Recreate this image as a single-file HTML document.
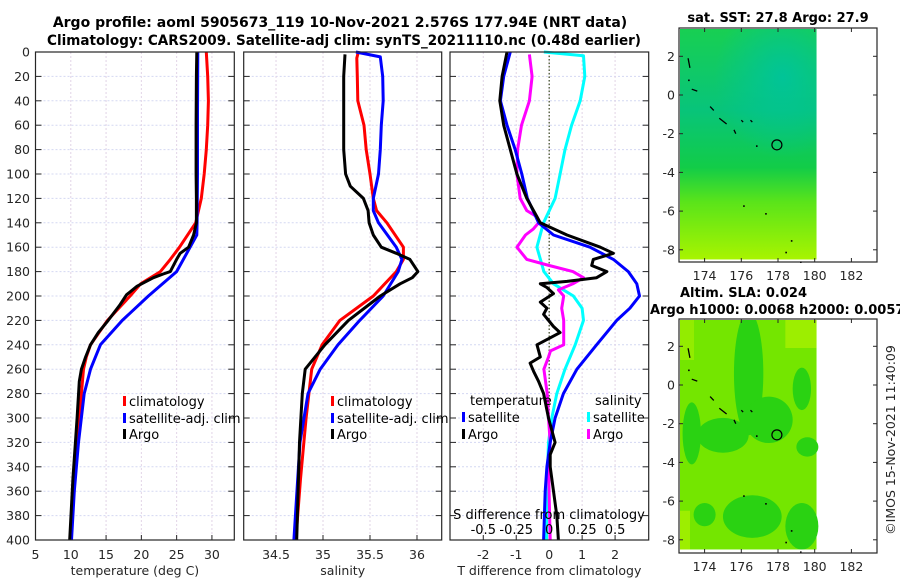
<!DOCTYPE html>
<html><head><meta charset="utf-8"><style>
html,body{margin:0;padding:0;background:#fff;}
svg{display:block;font-family:"DejaVu Sans","Liberation Sans",sans-serif;}
.tk{font-size:12.5px;fill:#262626;}
.ttl{font-size:14px;font-weight:bold;fill:#000;}
.mttl{font-size:13px;font-weight:bold;fill:#000;}
.lg{font-size:13px;fill:#000;}
</style></head><body>
<svg id="root" width="900" height="580" viewBox="0 0 900 580">
<defs>
<linearGradient id="sstg" x1="0" y1="0" x2="0" y2="1">
<stop offset="0" stop-color="#18cf52"/><stop offset="0.35" stop-color="#08c47a"/><stop offset="0.6" stop-color="#12cc48"/><stop offset="0.75" stop-color="#5ae41a"/><stop offset="1" stop-color="#a8f400"/></linearGradient>
<radialGradient id="teal" cx="0.75" cy="0.3" r="0.5"><stop offset="0" stop-color="#00c49a" stop-opacity="0.95"/><stop offset="1" stop-color="#00c49a" stop-opacity="0"/></radialGradient>
<clipPath id="clipsla"><rect x="680" y="320" width="140" height="231"/></clipPath>
</defs>
<text class="ttl" x="340" y="27" text-anchor="middle">Argo profile: aoml 5905673_119 10-Nov-2021 2.576S 177.94E (NRT data)</text>
<text class="ttl" x="344" y="45" text-anchor="middle" textLength="594" lengthAdjust="spacingAndGlyphs">Climatology: CARS2009. Satellite-adj clim: synTS_20211110.nc (0.48d earlier)</text>
<g id="g1"></g>
<g id="g2"></g>
<g id="g3"></g>
<g id="maps"></g>
</svg>
<script>
const depthTicks=[0,20,40,60,80,100,120,140,160,180,200,220,240,260,280,300,320,340,360,380,400];
const tTicks=[5,10,15,20,25,30];
const sTicks=[34.5,35,35.5,36];
const dTicks=[-2,-1,0,1,2];
const sdTicks=[-0.5,-0.25,0,0.25,0.5];
const sdTickLabels=["-0.5","-0.25","0","0.25","0.5"];
const tempClim=[[0,29.2],[20,29.4],[40,29.5],[60,29.4],[80,29.2],[100,28.9],[120,28.5],[140,27.7],[160,25.4],[170,24.1],[180,22.7],[190,19.9],[200,18.4],[220,15.2],[240,12.8],[250,12.2],[260,11.8],[300,11.2],[350,10.5],[400,9.95]];
const tempSat=[[0,28.0],[50,27.95],[100,27.95],[140,27.9],[150,27.85],[160,26.9],[180,25.0],[200,21.0],[220,17.3],[240,14.2],[260,12.8],[280,11.9],[320,11.1],[360,10.5],[400,10.1]];
const tempArgo=[[0,27.85],[20,27.8],[60,27.75],[100,27.75],[120,27.8],[140,27.8],[150,27.4],[160,26.7],[165,25.5],[170,25.0],[180,24.1],[182,23.1],[185,21.7],[192,19.4],[199,17.9],[207,17.0],[220,15.3],[230,13.9],[240,12.8],[250,12.1],[260,11.5],[270,11.2],[300,10.9],[350,10.3],[400,9.85]];
const salClim=[[0,35.376],[5,35.36],[20,35.365],[40,35.37],[60,35.436],[80,35.46],[100,35.5],[120,35.535],[130,35.57],[140,35.68],[160,35.855],[170,35.855],[180,35.78],[200,35.535],[220,35.18],[240,34.99],[260,34.88],[300,34.82],[350,34.76],[400,34.71]];
const salSat=[[0,35.35],[4,35.61],[20,35.635],[40,35.64],[60,35.62],[80,35.61],[100,35.59],[120,35.535],[130,35.535],[140,35.59],[160,35.78],[170,35.84],[180,35.8],[200,35.64],[220,35.39],[240,35.16],[260,34.97],[280,34.84],[320,34.755],[400,34.69]];
const salArgo=[[2,35.234],[20,35.22],[80,35.22],[100,35.24],[110,35.29],[120,35.43],[130,35.48],[140,35.49],[150,35.535],[160,35.62],[165,35.78],[170,35.925],[180,36.01],[185,35.95],[190,35.82],[200,35.61],[220,35.27],[240,35.02],[260,34.81],[280,34.78],[320,34.75],[400,34.72]];
const dTempSat=[[0,-1.18],[20,-1.38],[40,-1.48],[60,-1.28],[80,-1.03],[100,-0.83],[120,-0.66],[140,-0.32],[150,0.13],[160,1.24],[170,1.95],[180,2.4],[190,2.66],[200,2.74],[210,2.45],[220,2.05],[240,1.44],[260,0.84],[280,0.43],[300,0.18],[320,0.03],[340,-0.07],[360,-0.12],[400,-0.17]];
const dTempArgo=[[0,-1.28],[20,-1.43],[40,-1.5],[60,-1.38],[80,-1.18],[100,-0.98],[120,-0.68],[140,-0.27],[150,0.54],[160,1.55],[165,1.95],[170,1.34],[175,1.29],[180,1.75],[185,1.44],[188,0.54],[190,-0.27],[193,-0.07],[198,0.13],[205,-0.27],[210,-0.07],[215,-0.17],[225,0.13],[230,0.33],[240,-0.37],[250,-0.27],[255,-0.58],[262,-0.47],[270,-0.32],[280,-0.17],[300,-0.02],[320,0.18],[330,0.03],[340,0.03],[360,0.13],[380,0.23],[400,0.28]];
const dSalSat=[[0,-0.04],[3,0.26],[20,0.27],[40,0.235],[60,0.17],[80,0.12],[100,0.083],[120,0.045],[140,-0.043],[160,-0.093],[180,-0.04],[190,0.033],[200,0.184],[210,0.25],[220,0.26],[240,0.197],[260,0.12],[280,0.058],[300,0.02],[320,-0.005],[360,-0.018],[400,-0.02]];
const dSalArgo=[[2,-0.15],[20,-0.13],[40,-0.15],[60,-0.21],[80,-0.24],[100,-0.245],[120,-0.22],[130,-0.17],[135,-0.093],[140,-0.08],[145,-0.12],[150,-0.18],[160,-0.245],[170,-0.17],[175,0.0],[180,0.18],[185,0.26],[190,0.18],[195,0.07],[200,0.11],[210,0.095],[220,0.11],[240,0.11],[245,0.01],[250,-0.005],[260,-0.04],[280,-0.015],[300,-0.005],[320,0.008],[340,-0.005],[400,0.008]];
const latTicks=[2,0,-2,-4,-6,-8];
const lonTicks=[174,176,178,180,182];
const argoLon=177.94, argoLat=-2.576;

const NS='http://www.w3.org/2000/svg';
function mk(parent,tag,attrs,text){const e=document.createElementNS(NS,tag);for(const k in attrs)e.setAttribute(k,attrs[k]);if(text!==undefined)e.textContent=text;parent.appendChild(e);return e;}
const Y0=52,Y1=540;
const yD=d=>Y0+(d/400)*(Y1-Y0);
function panel(g,x0,x1,vmin,vmax,ticks,labels,xlabel,name){
  const xs=v=>x0+(v-vmin)/(vmax-vmin)*(x1-x0);
  depthTicks.forEach(d=>{const l=mk(g,'line',{x1:x0,x2:x1,y1:yD(d),y2:yD(d),stroke:'#d4d8f2','stroke-width':1,'stroke-dasharray':'2,2'});
    
    });
  ticks.forEach((v,i)=>{const l=mk(g,'line',{x1:xs(v),x2:xs(v),y1:Y0,y2:Y1,stroke:'#e2d4e6','stroke-width':1,'stroke-dasharray':'2,2'});
    
    
    mk(g,'line',{x1:xs(v),x2:xs(v),y1:Y1,y2:Y1-5,stroke:'#262626'});
    const t=mk(g,'text',{class:'tk',x:xs(v),y:Y1+19,'text-anchor':'middle'},labels?labels[i]:String(v));
    
    });
  depthTicks.forEach(d=>{mk(g,'line',{x1:x0,x2:x0+6,y1:yD(d),y2:yD(d),stroke:'#262626'});mk(g,'line',{x1:x1,x2:x1-6,y1:yD(d),y2:yD(d),stroke:'#262626'});});
  if(xlabel){const t=mk(g,'text',{class:'tk',x:(x0+x1)/2,y:Y1+35,'text-anchor':'middle','font-size':'13.5px'},xlabel);
    
    }
  return xs;
}
function line(g,data,xs,color,name,w){
  const d=data.map((p,i)=>(i?'L':'M')+xs(p[1]).toFixed(1)+','+yD(p[0]).toFixed(1)).join('');
  const p=mk(g,'path',{d:d,fill:'none',stroke:color,'stroke-width':w||3,'stroke-linejoin':'round'});
  
  
}
function frame(g,x0,x1){mk(g,'rect',{x:x0,y:Y0,width:x1-x0,height:Y1-Y0,fill:'none',stroke:'#262626','stroke-width':1.2});}
function legend(g,x,y,color,label,name){
  mk(g,'rect',{x:x,y:y-10,width:3,height:10,fill:color});
  const t=mk(g,'text',{class:'lg',x:x+6,y:y},label);
  
  
}
const g1=document.getElementById('g1'),g2=document.getElementById('g2'),g3=document.getElementById('g3');
depthTicks.forEach(d=>{const t=mk(g1,'text',{class:'tk',x:30,y:yD(d)+4.5,'text-anchor':'end'},String(d));
  
  });
const xt=panel(g1,35.5,234.3,5,33.17,tTicks,null,'temperature (deg C)','temp');
line(g1,tempClim,xt,'#ff0000','temp-climatology-line');
line(g1,tempSat,xt,'#0000ff','temp-satellite-line');
line(g1,tempArgo,xt,'#000000','temp-argo-line');
frame(g1,35.5,234.3);
legend(g1,123,406,'#ff0000','climatology','legend-climatology');
legend(g1,123,423,'#0000ff','satellite-adj. clim','legend-satellite-adj');
legend(g1,123,439,'#000000','Argo','legend-argo');

const xs2=panel(g2,243.7,441.7,34.156,36.263,sTicks,null,'salinity','sal');
line(g2,salClim,xs2,'#ff0000','sal-climatology-line');
line(g2,salSat,xs2,'#0000ff','sal-satellite-line');
line(g2,salArgo,xs2,'#000000','sal-argo-line');
frame(g2,243.7,441.7);
legend(g2,331,406,'#ff0000','climatology','legend-sal-climatology');
legend(g2,331,423,'#0000ff','satellite-adj. clim','legend-sal-satellite-adj');
legend(g2,331,439,'#000000','Argo','legend-sal-argo');

const xs3=panel(g3,450,648.7,-3.01,3.02,dTicks,null,'T difference from climatology','diff');
const xsS=v=>xs3(v*4);
mk(g3,'line',{x1:xs3(0),x2:xs3(0),y1:Y0,y2:Y1,stroke:'#3a4a20','stroke-width':1.2,'stroke-dasharray':'1.5,2'});
line(g3,dSalSat,xsS,'#00ffff','sal-diff-satellite-line');
line(g3,dSalArgo,xsS,'#ff00ff','sal-diff-argo-line');
line(g3,dTempSat,xs3,'#0000ff','temp-diff-satellite-line');
line(g3,dTempArgo,xs3,'#000000','temp-diff-argo-line');
frame(g3,450,648.7);
let t=mk(g3,'text',{class:'lg',x:470,y:405},'temperature');
t=mk(g3,'text',{class:'lg',x:595,y:405},'salinity');
legend(g3,462,422,'#0000ff','satellite','legend-temp-diff-satellite');
legend(g3,462,439,'#000000','Argo','legend-temp-diff-argo');
legend(g3,587,422,'#00ffff','satellite','legend-sal-diff-satellite');
legend(g3,587,439,'#ff00ff','Argo','legend-sal-diff-argo');
t=mk(g3,'text',{class:'lg',x:549,y:519,'text-anchor':'middle'},'S difference from climatology');
sdTicks.forEach((v,i)=>{const tt=mk(g3,'text',{class:'lg',x:xsS(v),y:534,'text-anchor':'middle'},sdTickLabels[i]);
  
  });

const mg=document.getElementById('maps');
const lonX=lon=>778+(lon-178)*18.35;
function map(top,lat0y,kind){
  const latY=l=>lat0y-l*19.35;
  const bx0=679,bx1=877,by1=top+234;
  const g=mk(mg,'g',{});
  
  
  const dx0=680,dx1=lonX(180.1),dy0=top+1,dy1=latY(-8.5);
  if(kind==='sst'){
    mk(g,'rect',{x:dx0,y:dy0,width:dx1-dx0,height:dy1-dy0,fill:'url(#sstg)'});
    mk(g,'rect',{x:dx0,y:dy0,width:dx1-dx0,height:(dy1-dy0)*0.7,fill:'url(#teal)'});
  } else {
    const c=mk(g,'g',{'clip-path':'url(#clipsla)'});
    mk(c,'rect',{x:dx0,y:dy0,width:dx1-dx0,height:dy1-dy0,fill:'#74e600'});
    const blobs=[[176.4,0.6,0.8,3.2],[177.5,-1.8,1.3,1.2],[175.0,-2.6,1.4,0.9],[179.3,-0.2,0.5,1.1],[173.3,-2.5,0.5,1.6],[176.6,-6.8,1.6,1.1],[179.3,-7.3,0.9,1.2],[179.6,-3.2,0.6,0.5],[174.0,-6.7,0.6,0.6]];
    blobs.forEach(b=>mk(c,'ellipse',{cx:lonX(b[0]),cy:latY(b[1]),rx:b[2]*18.35,ry:b[3]*19.35,fill:'#2ad212'}));
    mk(c,'rect',{x:lonX(178.4),y:dy0,width:dx1-lonX(178.4),height:28,fill:'#a8f000',opacity:0.8});
    mk(c,'rect',{x:dx0,y:latY(-6.5),width:10,height:dy1-latY(-6.5),fill:'#a8f000',opacity:0.8});
    mk(c,'rect',{x:dx0,y:dy0,width:14,height:40,fill:'#a8f000',opacity:0.6});
  }
  const isl=[[173.1,1.9,173.2,1.4],[173.3,0.3,173.6,0.2],[174.3,-0.6,174.5,-0.8],[174.8,-1.2,175.2,-1.5],[175.6,-1.8,175.7,-2],[176,-1.3,176.1,-1.4],[176.5,-1.3,176.6,-1.4]];
  isl.forEach(s=>mk(g,'line',{x1:lonX(s[0]),y1:latY(s[1]),x2:lonX(s[2]),y2:latY(s[3]),stroke:'#000','stroke-width':1.3}));
  [[176.8,-2.6],[176.1,-5.7],[177.3,-6.1],[178.7,-7.5],[178.4,-8.1],[173.1,0.8],[179.2,-8.6]].forEach(p=>mk(g,'rect',{x:lonX(p[0]),y:latY(p[1]),width:1.6,height:1.6,fill:'#000'}));
  const c=mk(g,'circle',{cx:lonX(argoLon),cy:latY(argoLat),r:5,fill:'none',stroke:'#000','stroke-width':1.2});
  
  
  mk(g,'rect',{x:bx0,y:top,width:bx1-bx0,height:by1-top,fill:'none',stroke:'#262626','stroke-width':1.2});
  latTicks.forEach(l=>{mk(g,'line',{x1:bx0,x2:bx0+4,y1:latY(l),y2:latY(l),stroke:'#262626'});mk(g,'line',{x1:bx1,x2:bx1-4,y1:latY(l),y2:latY(l),stroke:'#262626'});
    const tt=mk(g,'text',{class:'tk',x:675,y:latY(l)+4.5,'text-anchor':'end'},String(l));
    
    });
  lonTicks.forEach(l=>{mk(g,'line',{x1:lonX(l),x2:lonX(l),y1:by1,y2:by1-4,stroke:'#262626'});mk(g,'line',{x1:lonX(l),x2:lonX(l),y1:top,y2:top+4,stroke:'#262626'});
    const tt=mk(g,'text',{class:'tk',x:lonX(l),y:by1+18,'text-anchor':'middle'},String(l));
    
    });
}
map(28,95,'sst');
map(319,385,'sla');
t=mk(mg,'text',{class:'mttl',x:778,y:22,'text-anchor':'middle'},'sat. SST: 27.8 Argo: 27.9');
t=mk(mg,'text',{class:'mttl',x:680,y:297},'Altim. SLA: 0.024');
t=mk(mg,'text',{class:'mttl',x:650,y:314},'Argo h1000: 0.0068 h2000: 0.0057');
t=mk(mg,'text',{class:'tk',x:0,y:0,'text-anchor':'middle',transform:'translate(895,440) rotate(-90)','font-size':'13px'},'©IMOS 15-Nov-2021 11:40:09');
</script>
</body></html>
